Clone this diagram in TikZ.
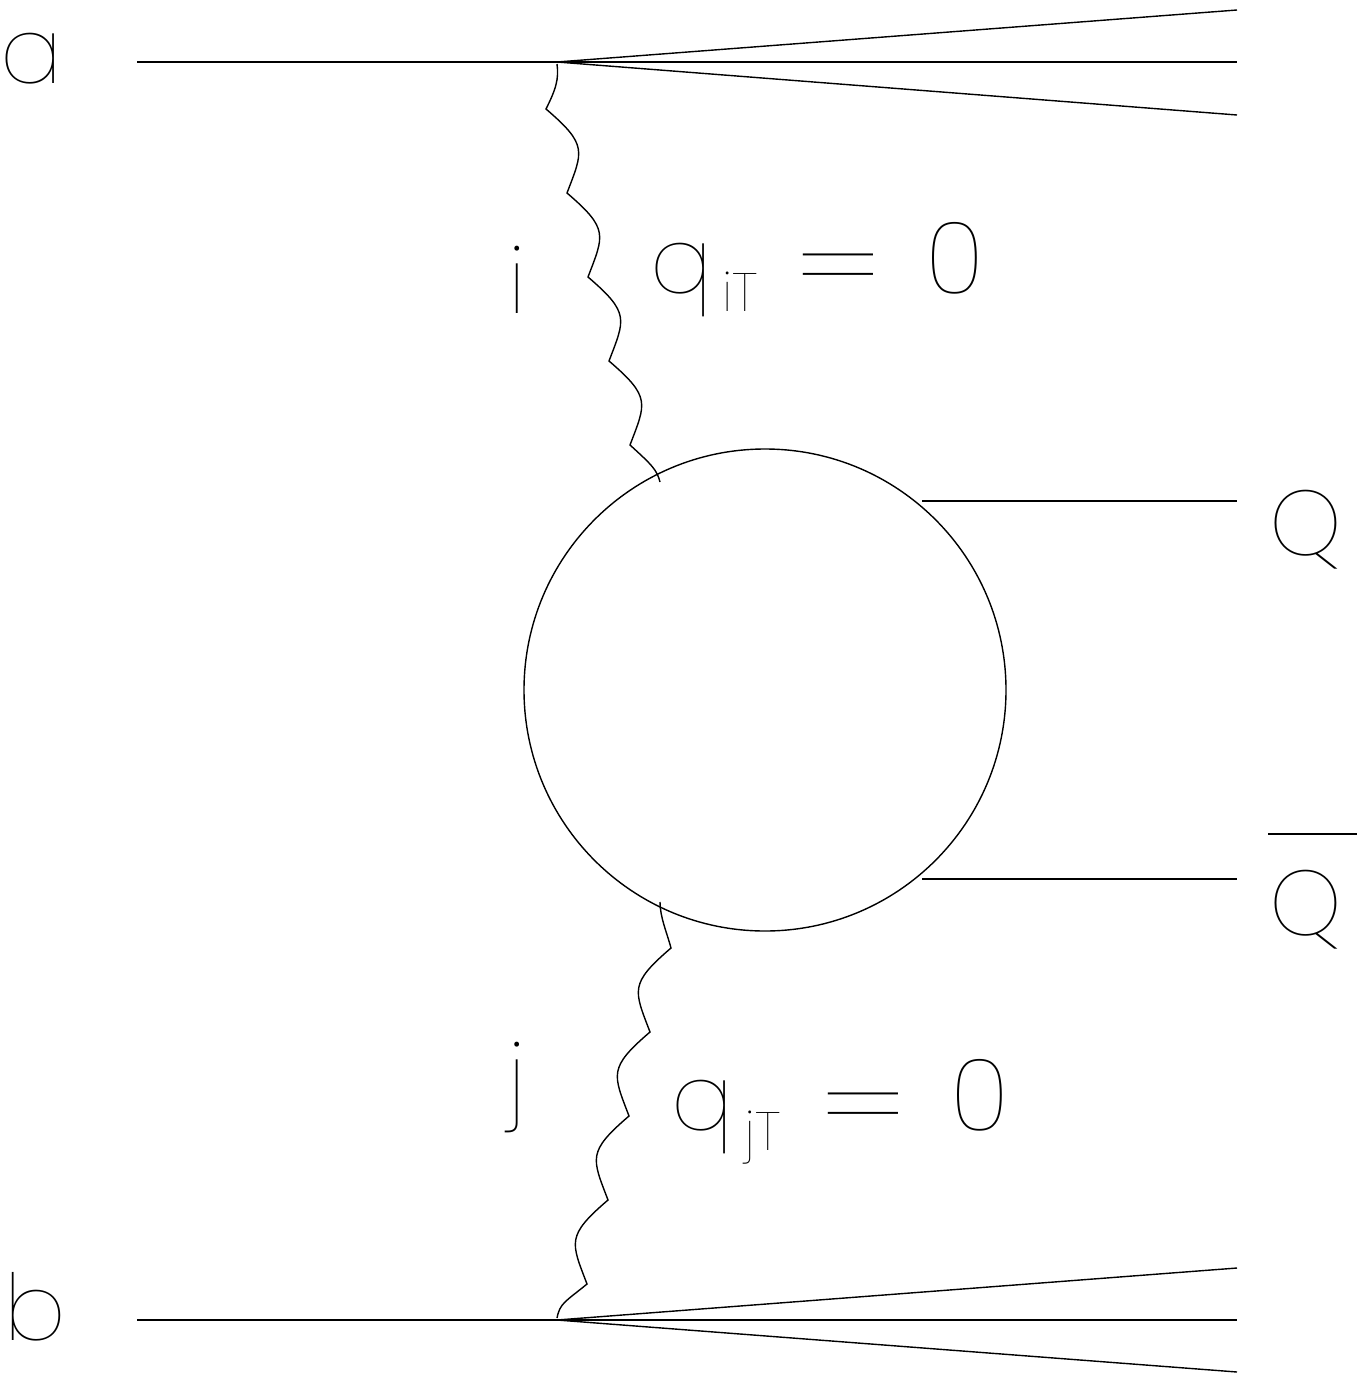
\documentclass[tikz,border=0pt]{standalone}
\usepackage{fontspec}
\newfontfamily\pth{Poppins}[UprightFont={* Thin}]
\begin{document}
\begin{tikzpicture}[x=0.5pt,y=-0.5pt,line width=0.7pt,
  lbl/.style={inner sep=0pt,anchor=base,font=\pth\fontsize{46}{56}\selectfont},
  biglbl/.style={inner sep=0pt,anchor=base,font=\pth\fontsize{50}{60}\selectfont},
  eqlbl/.style={inner sep=0pt,anchor=center,font=\pth\fontsize{50}{60}\selectfont},
  sublbl/.style={inner sep=0pt,anchor=base,font=\pth\fontsize{27}{32}\selectfont}]
\useasboundingbox (0,0) rectangle (1367,1376);
% external lines
\coordinate (va) at (557,62);
\coordinate (vb) at (557,1320);
\coordinate (ain) at (137,62);
\coordinate (bin) at (137,1320);
\coordinate (a1) at (1237,10);
\coordinate (a2) at (1237,62);
\coordinate (a3) at (1237,115);
\coordinate (b1) at (1237,1268);
\coordinate (b2) at (1237,1320);
\coordinate (b3) at (1237,1372);
\draw (ain) -- (va);
\draw (va) -- (a1); \draw (va) -- (a2); \draw (va) -- (a3);
\draw (bin) -- (vb);
\draw (vb) -- (b1); \draw (vb) -- (b2); \draw (vb) -- (b3);
% blob
\node[draw,circle,minimum size=241pt,inner sep=0pt] (blob) at (765,690) {};
\coordinate (q1s) at (922,501);
\coordinate (q1e) at (1237,501);
\coordinate (q2s) at (922,879);
\coordinate (q2e) at (1237,879);
\draw (q1s) -- (q1e);
\draw (q2s) -- (q2e);
% upper gluon
\coordinate (gu0) at (557,64);
\coordinate (gue) at (660,482);
\draw (gu0) .. controls +(2,15) and +(10,-20) .. (546,109)
  .. controls +(42,36) and +(16,-42) .. (567,193)
  .. controls +(42,36) and +(16,-42) .. (588,277)
  .. controls +(42,36) and +(16,-42) .. (609,361)
  .. controls +(42,36) and +(16,-42) .. (630,445)
  .. controls +(22,20) and +(-3,-12) .. (gue);
% lower gluon
\coordinate (gl0) at (660,902);
\coordinate (gle) at (557,1318);
\draw (gl0) .. controls +(0,15) and +(-4,-15) .. (671,948)
  .. controls +(-42,36) and +(-16,-42) .. (650,1032)
  .. controls +(-42,36) and +(-16,-42) .. (629,1116)
  .. controls +(-42,36) and +(-16,-42) .. (608,1200)
  .. controls +(-42,36) and +(-16,-42) .. (587,1284)
  .. controls +(-22,18) and +(3,-15) .. (gle);
% labels
\node[lbl] (la) at (31,83) {a};
\node[lbl] (lb) at (35,1340) {b};
\node[lbl] (li) at (517,313) {i};
\node[lbl] (lj) at (517,1109) {j};
\node[lbl] (qi) at (681,293) {q};
\node[sublbl] (qisub) at (740,311) {iT};
\node[eqlbl] (eqi) at (838,280) {\scalebox{1.45}[1.1]{=}};
\node[biglbl] (zi) at (955,293) {0};
\node[lbl] (qj) at (702,1130) {q};
\node[sublbl] (qjsub) at (763,1150) {jT};
\node[eqlbl] (eqj) at (863,1119) {\scalebox{1.45}[1.1]{=}};
\node[biglbl] (zj) at (980,1130) {0};
\node[lbl] (lq) at (1306,555) {Q};
\node[lbl] (lqb) at (1306,935) {Q};
\coordinate (barl) at (1268,834);
\coordinate (barr) at (1357,834);
\draw[line width=0.6pt] (barl) -- (barr);
\end{tikzpicture}
\end{document}
